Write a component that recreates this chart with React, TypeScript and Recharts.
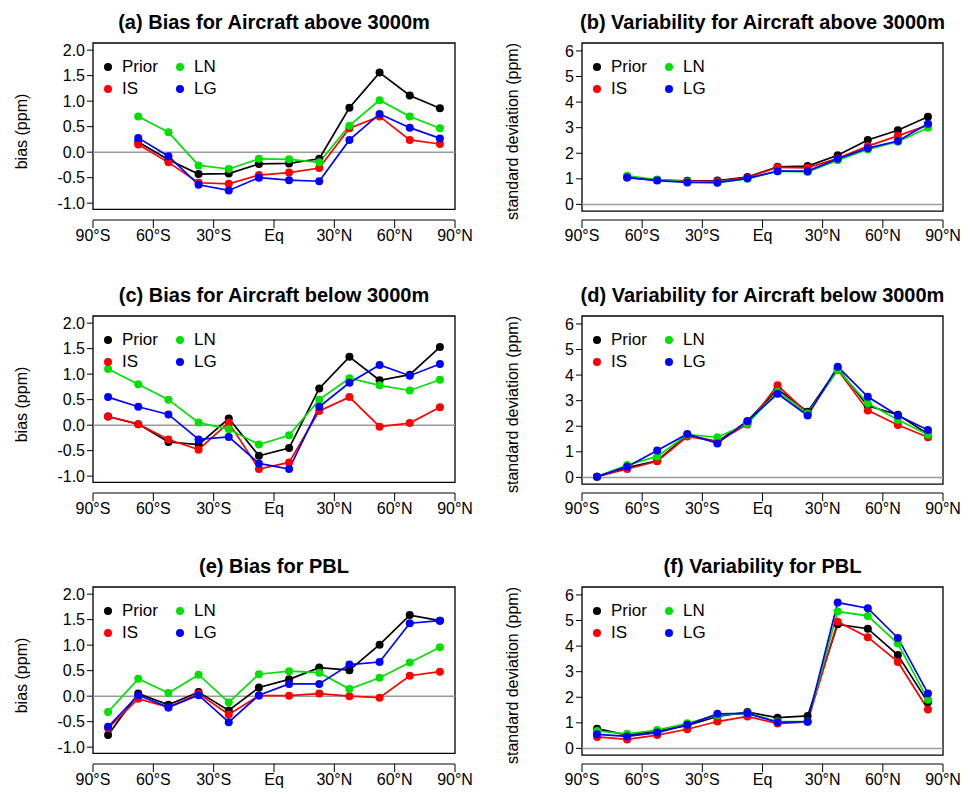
import React from "react"
import {
   LineChart,
   Line,
   XAxis,
   YAxis,
   ReferenceLine,
   ReferenceArea,
} from "recharts"

// latitude bin centres
const lat11 = [-67.5, -52.5, -37.5, -22.5, -7.5, 7.5, 22.5, 37.5, 52.5, 67.5, 82.5]
const lat12 = [-82.5, ...lat11]

const latTicks = [-90, -60, -30, 0, 30, 60, 90]
const biasTicks = [-1, -0.5, 0, 0.5, 1, 1.5, 2]
const sdTicks = [0, 1, 2, 3, 4, 5, 6]

// (a) bias, above 3000m
const aPrior = [0.2, -0.15, -0.43, -0.42, -0.23, -0.22, -0.13, 0.87, 1.56, 1.11, 0.86]
const aIS = [0.15, -0.2, -0.6, -0.62, -0.45, -0.4, -0.31, 0.47, 0.7, 0.24, 0.16]
const aLN = [0.7, 0.39, -0.26, -0.33, -0.13, -0.14, -0.2, 0.52, 1.02, 0.7, 0.47]
const aLG = [0.28, -0.08, -0.64, -0.75, -0.5, -0.55, -0.57, 0.24, 0.75, 0.48, 0.27]

// (b) variability, above 3000m
const bPrior = [1.08, 0.95, 0.92, 0.93, 1.07, 1.47, 1.5, 1.92, 2.52, 2.9, 3.43]
const bIS = [1.05, 0.95, 0.9, 0.9, 1.05, 1.45, 1.43, 1.8, 2.28, 2.68, 3.1]
const bLN = [1.12, 0.97, 0.88, 0.86, 1.0, 1.3, 1.27, 1.73, 2.15, 2.45, 3.0]
const bLG = [1.05, 0.93, 0.86, 0.85, 1.02, 1.3, 1.3, 1.78, 2.2, 2.48, 3.15]

// (c) bias, below 3000m
const cPrior = [0.17, 0.02, -0.33, -0.38, 0.13, -0.6, -0.45, 0.72, 1.34, 0.88, 0.99, 1.53]
const cIS = [0.17, 0.02, -0.28, -0.48, 0.05, -0.86, -0.73, 0.28, 0.55, -0.03, 0.04, 0.35]
const cLN = [1.1, 0.8, 0.5, 0.05, -0.08, -0.38, -0.2, 0.5, 0.92, 0.78, 0.68, 0.89]
const cLG = [0.55, 0.36, 0.21, -0.28, -0.23, -0.75, -0.86, 0.36, 0.83, 1.18, 0.97, 1.2]

// (d) variability, below 3000m
const dPrior = [0.03, 0.38, 0.65, 1.65, 1.4, 2.2, 3.45, 2.57, 4.25, 2.8, 2.45, 1.7]
const dIS = [0.03, 0.33, 0.63, 1.6, 1.4, 2.07, 3.6, 2.5, 4.2, 2.62, 2.05, 1.57]
const dLN = [0.03, 0.48, 0.82, 1.67, 1.57, 2.1, 3.35, 2.5, 4.2, 2.9, 2.25, 1.67]
const dLG = [0.03, 0.42, 1.05, 1.7, 1.33, 2.2, 3.27, 2.42, 4.33, 3.15, 2.42, 1.85]

// (e) bias, PBL
const ePrior = [-0.76, 0.05, -0.17, 0.08, -0.28, 0.17, 0.33, 0.56, 0.51, 1.01, 1.59, 1.48]
const eIS = [-0.63, -0.05, -0.22, 0.05, -0.36, 0.01, 0.01, 0.05, 0.0, -0.03, 0.4, 0.48]
const eLN = [-0.31, 0.34, 0.06, 0.42, -0.12, 0.43, 0.49, 0.46, 0.14, 0.36, 0.66, 0.96]
const eLG = [-0.6, 0.02, -0.22, 0.02, -0.51, 0.02, 0.24, 0.24, 0.62, 0.67, 1.43, 1.48]

// (f) variability, PBL
const fPrior = [0.77, 0.52, 0.68, 0.9, 1.25, 1.42, 1.2, 1.27, 4.85, 4.68, 3.65, 1.8]
const fIS = [0.45, 0.35, 0.52, 0.75, 1.05, 1.25, 0.97, 1.03, 4.95, 4.35, 3.38, 1.52]
const fLN = [0.68, 0.57, 0.72, 0.98, 1.3, 1.38, 1.05, 1.05, 5.35, 5.18, 4.1, 1.9]
const fLG = [0.55, 0.47, 0.62, 0.92, 1.35, 1.37, 1.02, 1.05, 5.7, 5.48, 4.32, 2.15]

const FONT = "'Liberation Sans', Arial, sans-serif"

const seriesDefs = [
   { key: "Prior", color: "#000000" },
   { key: "IS", color: "#ff0000" },
   { key: "LN", color: "#00e000" },
   { key: "LG", color: "#0000ff" },
]

const build = (lats: number[], p: number[], i: number[], n: number[], g: number[]) =>
   lats.map((lat, k) => ({ lat, Prior: p[k], IS: i[k], LN: n[k], LG: g[k] }))

const latLabel = (v: number) =>
   v === 0 ? "Eq" : v < 0 ? `${-v}°S` : `${v}°N`

const LegendBox: React.FC<{ left: number; top: number }> = ({ left, top }) => (
   <div
      style={{
         position: "absolute",
         left,
         top,
         fontFamily: FONT,
         fontSize: 17,
         color: "#000",
      }}
   >
      {[
         [seriesDefs[0], seriesDefs[2]],
         [seriesDefs[1], seriesDefs[3]],
      ].map((row, r) => (
         <div key={r} style={{ display: "flex", height: 22, alignItems: "center" }}>
            {row.map((s) => (
               <div key={s.key} style={{ display: "flex", alignItems: "center", width: 72 }}>
                  <span
                     style={{
                        width: 8,
                        height: 8,
                        borderRadius: 4,
                        background: s.color,
                        marginRight: 10,
                     }}
                  />
                  <span>{s.key}</span>
               </div>
            ))}
         </div>
      ))}
   </div>
)

interface PanelProps {
   title: string
   data: any[]
   bias: boolean
   left: number
   top: number
}

const Panel: React.FC<PanelProps> = ({ title, data, bias, left, top }) => {
   const domain = bias ? [-1.33, 2.14] : [-0.61, 6.31]
   const box = bias ? [-1.12, 2.14] : [-0.26, 6.31]
   const ml = bias ? 93 : 97
   const mr = bias ? 30 : 27
   return (
      <div style={{ position: "absolute", left, top, width: 485, height: 265 }}>
         <LineChart
            width={485}
            height={265}
            data={data}
            margin={{ top: 43, right: mr, bottom: 15, left: ml - 60 }}
            style={{ fontFamily: FONT }}
         >
            <text
               x={ml + (485 - ml - mr) / 2}
               y={29}
               textAnchor="middle"
               style={{ fontFamily: FONT, fontSize: 20, fontWeight: "bold" }}
               fill="#000"
            >
               {title}
            </text>
            <XAxis
               dataKey="lat"
               type="number"
               domain={[-90, 90]}
               ticks={latTicks}
               tickFormatter={latLabel}
               axisLine={{ stroke: "#000" }}
               tickLine={{ stroke: "#000" }}
               tickSize={8}
               tick={{ fill: "#000", fontSize: 16 }}
               height={30}
               interval={0}
            />
            <YAxis
               type="number"
               domain={domain}
               ticks={bias ? biasTicks : sdTicks}
               tickFormatter={(v: number) => (bias ? v.toFixed(1) : String(v))}
               axisLine={false}
               tickLine={{ stroke: "#000" }}
               tickSize={6}
               tick={{ fill: "#000", fontSize: 16 }}
               width={60}
               interval={0}
               allowDataOverflow
               label={{
                  value: bias ? "bias (ppm)" : "standard deviation (ppm)",
                  angle: -90,
                  position: "insideLeft",
                  offset: bias ? -12 : -10,
                  style: { fill: "#000", fontSize: 16, textAnchor: "middle" },
               }}
            />
            <ReferenceLine y={0} stroke="#9a9a9a" strokeWidth={1.5} />
            <ReferenceArea
               x1={-90}
               x2={90}
               y1={box[0]}
               y2={box[1]}
               fill="none"
               fillOpacity={0}
               stroke="#000"
               strokeWidth={1.3}
            />
            {seriesDefs.map((s) => (
               <Line
                  key={s.key}
                  dataKey={s.key}
                  stroke={s.color}
                  strokeWidth={1.7}
                  dot={{ r: 4, fill: s.color, stroke: s.color, strokeWidth: 0 }}
                  activeDot={false}
                  isAnimationActive={false}
                  type="linear"
               />
            ))}
         </LineChart>
         <LegendBox left={ml + 11} top={56} />
      </div>
   )
}

export default function App() {
   return (
      <div
         style={{
            position: "absolute",
            left: 0,
            top: 0,
            width: 970,
            height: 796,
            background: "#fff",
         }}
      >
         <Panel title="(a) Bias for Aircraft above 3000m" data={build(lat11, aPrior, aIS, aLN, aLG)} bias left={0} top={0} />
         <Panel title="(b) Variability for Aircraft above 3000m" data={build(lat11, bPrior, bIS, bLN, bLG)} bias={false} left={485} top={0} />
         <Panel title="(c) Bias for Aircraft below 3000m" data={build(lat12, cPrior, cIS, cLN, cLG)} bias left={0} top={273} />
         <Panel title="(d) Variability for Aircraft below 3000m" data={build(lat12, dPrior, dIS, dLN, dLG)} bias={false} left={485} top={273} />
         <Panel title="(e) Bias for PBL" data={build(lat12, ePrior, eIS, eLN, eLG)} bias left={0} top={544} />
         <Panel title="(f) Variability for PBL" data={build(lat12, fPrior, fIS, fLN, fLG)} bias={false} left={485} top={544} />
      </div>
   )
}
